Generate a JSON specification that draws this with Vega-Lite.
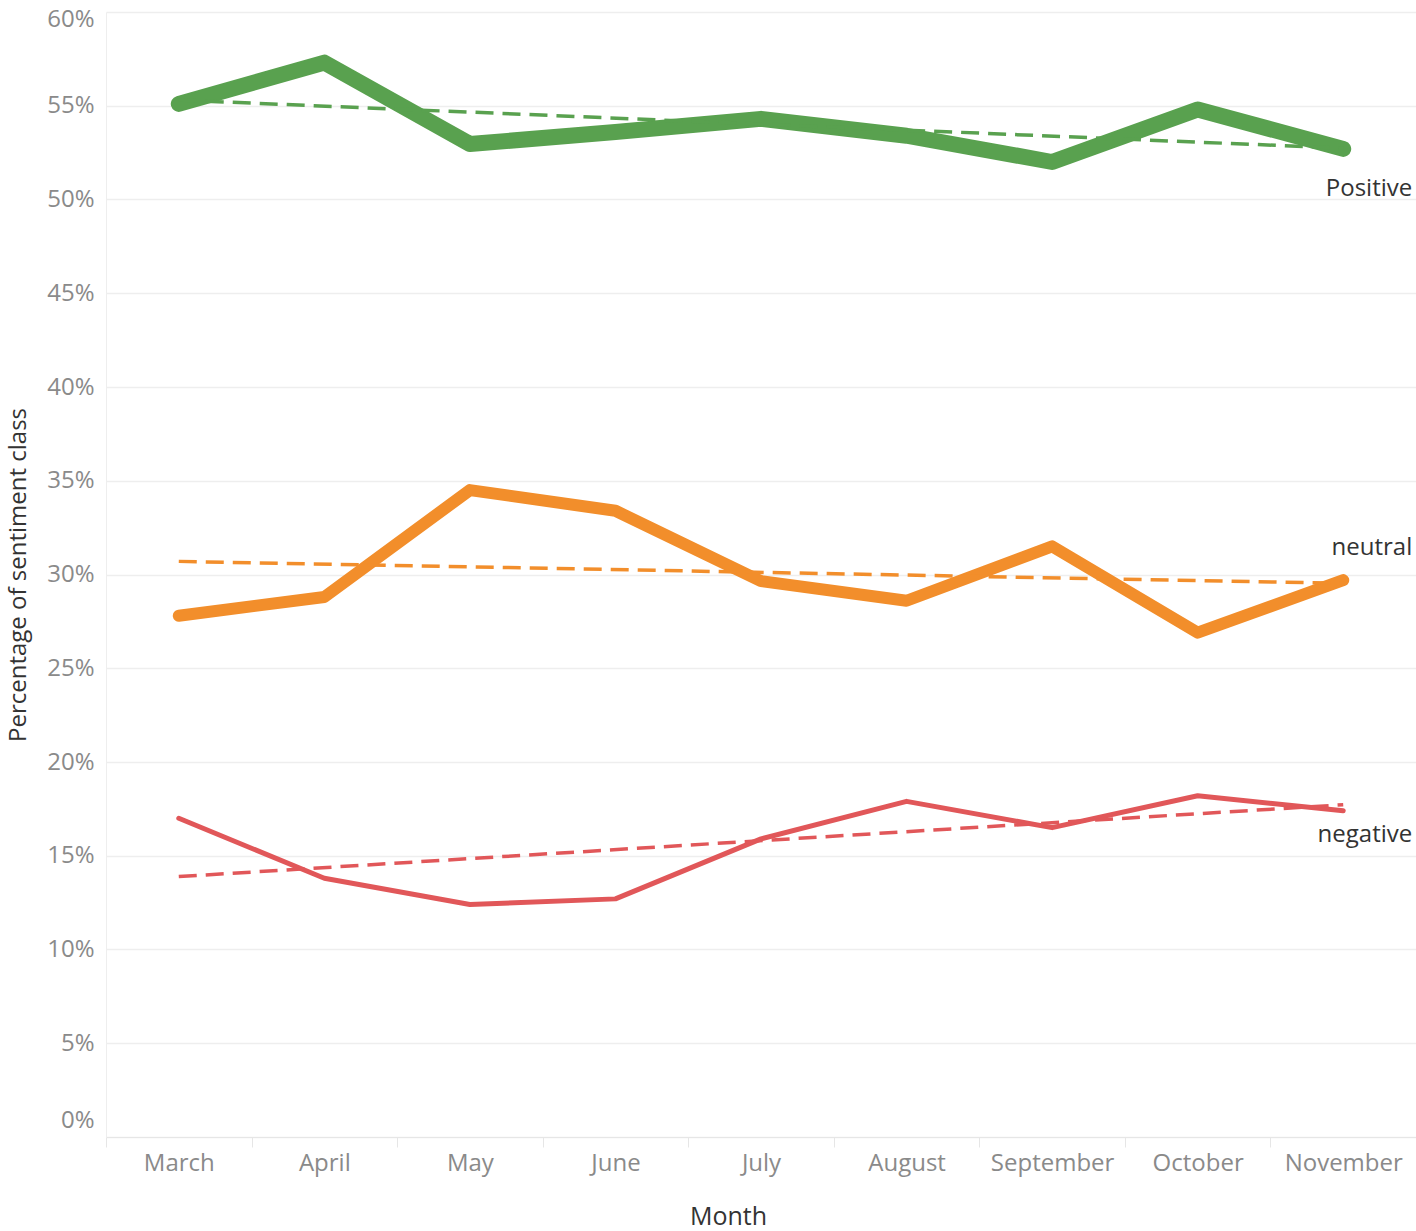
{
  "$schema": "https://vega.github.io/schema/vega-lite/v6.json",
  "width": 1310,
  "height": 1125,
  "autosize": {"type": "none"},
  "padding": {"left": 106, "top": 12, "right": 0, "bottom": 94},
  "background": "white",
  "config": {
    "view": {"stroke": null},
    "font": "Open Sans"
  },
  "datasets": {
    "series": [
      {"month": "March", "sentiment": "Positive", "pct": 0.551},
      {"month": "April", "sentiment": "Positive", "pct": 0.573},
      {"month": "May", "sentiment": "Positive", "pct": 0.5296},
      {"month": "June", "sentiment": "Positive", "pct": 0.536},
      {"month": "July", "sentiment": "Positive", "pct": 0.543},
      {"month": "August", "sentiment": "Positive", "pct": 0.534},
      {"month": "September", "sentiment": "Positive", "pct": 0.520},
      {"month": "October", "sentiment": "Positive", "pct": 0.548},
      {"month": "November", "sentiment": "Positive", "pct": 0.527},
      {"month": "March", "sentiment": "neutral", "pct": 0.278},
      {"month": "April", "sentiment": "neutral", "pct": 0.288},
      {"month": "May", "sentiment": "neutral", "pct": 0.345},
      {"month": "June", "sentiment": "neutral", "pct": 0.334},
      {"month": "July", "sentiment": "neutral", "pct": 0.2965},
      {"month": "August", "sentiment": "neutral", "pct": 0.286},
      {"month": "September", "sentiment": "neutral", "pct": 0.315},
      {"month": "October", "sentiment": "neutral", "pct": 0.269},
      {"month": "November", "sentiment": "neutral", "pct": 0.297},
      {"month": "March", "sentiment": "negative", "pct": 0.170},
      {"month": "April", "sentiment": "negative", "pct": 0.138},
      {"month": "May", "sentiment": "negative", "pct": 0.124},
      {"month": "June", "sentiment": "negative", "pct": 0.127},
      {"month": "July", "sentiment": "negative", "pct": 0.159},
      {"month": "August", "sentiment": "negative", "pct": 0.179},
      {"month": "September", "sentiment": "negative", "pct": 0.165},
      {"month": "October", "sentiment": "negative", "pct": 0.182},
      {"month": "November", "sentiment": "negative", "pct": 0.174}
    ],
    "trends": [
      {"month": "March", "sentiment": "Positive", "trend": 0.553},
      {"month": "November", "sentiment": "Positive", "trend": 0.5274},
      {"month": "March", "sentiment": "neutral", "trend": 0.3070},
      {"month": "November", "sentiment": "neutral", "trend": 0.2953},
      {"month": "March", "sentiment": "negative", "trend": 0.1389},
      {"month": "November", "sentiment": "negative", "trend": 0.1772}
    ]
  },
  "encoding": {
    "x": {
      "field": "month",
      "type": "ordinal",
      "sort": ["March", "April", "May", "June", "July", "August", "September", "October", "November"],
      "scale": {"type": "band", "domain": ["March", "April", "May", "June", "July", "August", "September", "October", "November"], "paddingInner": 0, "paddingOuter": 0},
      "axis": {
        "title": "Month",
        "titleFontSize": 25,
        "titleFontWeight": "normal",
        "titleColor": "#333333",
        "titlePadding": 29,
        "titleX": 622,
        "labelAngle": 0,
        "labelFontSize": 24,
        "labelColor": "#8a8a8a",
        "labelPadding": 4,
        "tickBand": "extent",
        "tickSize": 10,
        "tickColor": "#e6e6e6",
        "domainColor": "#e6e6e6",
        "grid": false
      }
    },
    "color": {
      "field": "sentiment",
      "type": "nominal",
      "scale": {"domain": ["Positive", "neutral", "negative"], "range": ["#59A14F", "#F28E2B", "#E15759"]},
      "legend": null
    }
  },
  "layer": [
    {
      "data": {"name": "series"},
      "transform": [{"filter": "datum.sentiment === 'Positive'"}],
      "mark": {"type": "line", "strokeCap": "round", "strokeJoin": "round", "strokeWidth": 16},
      "encoding": {
        "y": {
          "field": "pct",
          "type": "quantitative",
          "scale": {"domain": [0, 0.6], "nice": false, "zero": true},
          "axis": {
            "title": "Percentage of sentiment class",
            "titleFontSize": 24,
            "titleFontWeight": "normal",
            "titleColor": "#333333",
            "titlePadding": 16,
            "format": ".0%",
            "values": [0, 0.05, 0.1, 0.15, 0.2, 0.25, 0.3, 0.35, 0.4, 0.45, 0.5, 0.55, 0.6],
            "labelFontSize": 24,
            "labelColor": "#8a8a8a",
            "labelPadding": 12,
            "labelFlush": true,
            "labelOffset": {"condition": {"test": "datum.value === 0 || datum.value === 0.6", "value": -5}, "value": 0},
            "ticks": false,
            "domainColor": "#eeeeee",
            "gridColor": "#eeeeee",
            "gridWidth": 1.5
          }
        }
      }
    },
    {
      "data": {"name": "series"},
      "transform": [{"filter": "datum.sentiment === 'neutral'"}],
      "mark": {"type": "line", "strokeCap": "round", "strokeJoin": "round", "strokeWidth": 12},
      "encoding": {"y": {"field": "pct", "type": "quantitative"}}
    },
    {
      "data": {"name": "series"},
      "transform": [{"filter": "datum.sentiment === 'negative'"}],
      "mark": {"type": "line", "strokeCap": "round", "strokeJoin": "round", "strokeWidth": 5},
      "encoding": {"y": {"field": "pct", "type": "quantitative"}}
    },
    {
      "data": {"name": "trends"},
      "mark": {"type": "line", "strokeWidth": 3.5, "strokeDash": [18, 9]},
      "encoding": {
        "y": {"field": "trend", "type": "quantitative"},
        "detail": {"field": "sentiment"}
      }
    },
    {
      "data": {"name": "series"},
      "transform": [{"filter": "datum.month === 'November' && datum.sentiment === 'Positive'"}],
      "mark": {"type": "text", "align": "right", "baseline": "middle", "dx": 69, "dy": 40, "fontSize": 24},
      "encoding": {
        "y": {"field": "pct", "type": "quantitative"},
        "text": {"field": "sentiment"},
        "color": {"value": "#333333"}
      }
    },
    {
      "data": {"name": "series"},
      "transform": [{"filter": "datum.month === 'November' && datum.sentiment === 'neutral'"}],
      "mark": {"type": "text", "align": "right", "baseline": "middle", "dx": 69, "dy": -32, "fontSize": 24},
      "encoding": {
        "y": {"field": "pct", "type": "quantitative"},
        "text": {"field": "sentiment"},
        "color": {"value": "#333333"}
      }
    },
    {
      "data": {"name": "series"},
      "transform": [{"filter": "datum.month === 'November' && datum.sentiment === 'negative'"}],
      "mark": {"type": "text", "align": "right", "baseline": "middle", "dx": 69, "dy": 24, "fontSize": 24},
      "encoding": {
        "y": {"field": "pct", "type": "quantitative"},
        "text": {"field": "sentiment"},
        "color": {"value": "#333333"}
      }
    }
  ]
}
